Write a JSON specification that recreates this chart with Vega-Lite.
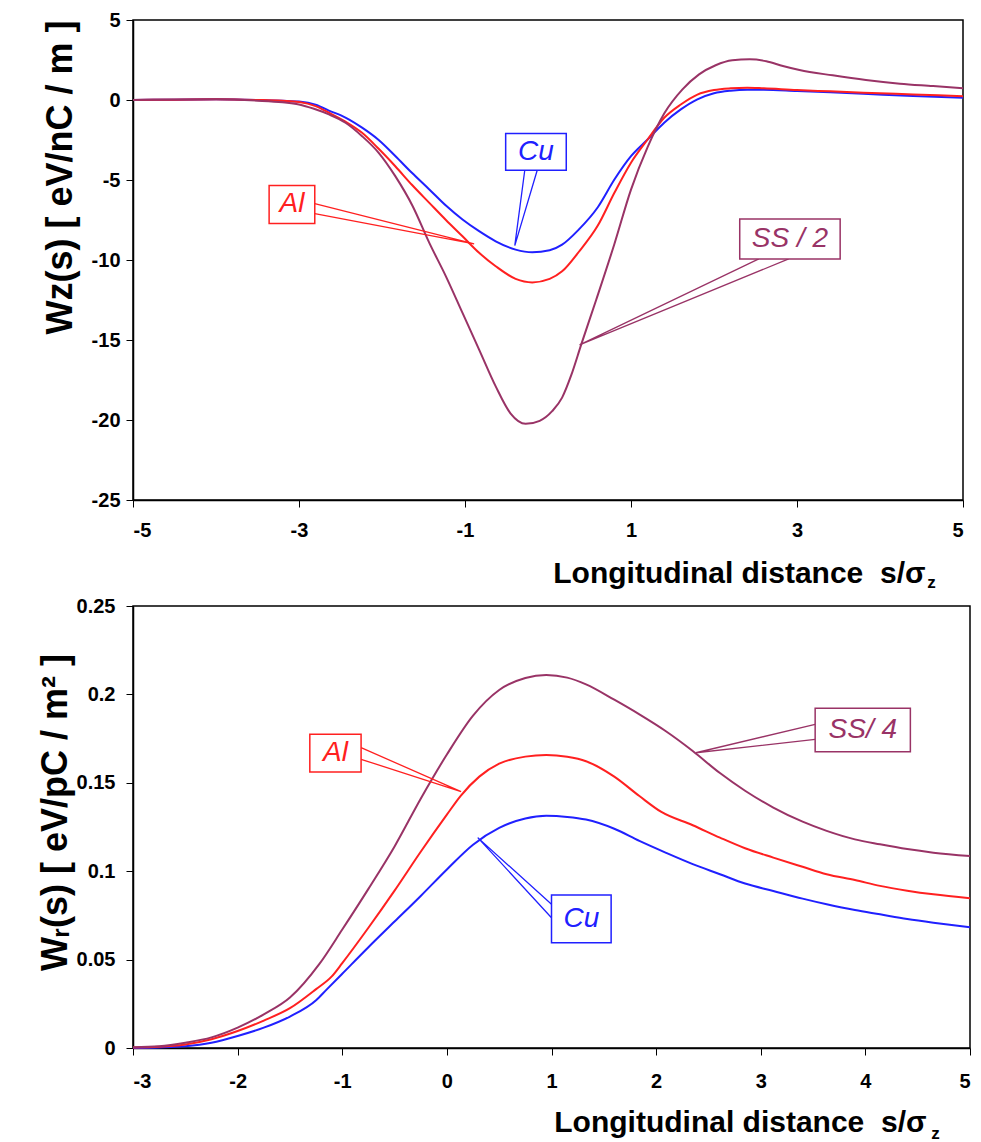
{
  "$schema": "https://vega.github.io/schema/vega-lite/v6.json",
  "background": "white",
  "padding": {"left": 36, "top": 9, "right": 5, "bottom": 2},
  "spacing": 3,
  "config": {
    "font": "Liberation Sans",
    "view": {"stroke": "black", "strokeWidth": 1.5},
    "axis": {
      "grid": false,
      "labelFont": "Liberation Sans",
      "titleFont": "Liberation Sans",
      "labelFontWeight": "bold",
      "titleFontWeight": "bold",
      "labelColor": "black",
      "titleColor": "black",
      "domainColor": "black",
      "tickColor": "black",
      "domainWidth": 1.5,
      "tickWidth": 1,
      "tickSize": 7,
      "labelFontSize": 20,
      "titleFontSize": 30
    }
  },
  "datasets": {
    "wz": [
      {"metal":"Cu","s":-5,"w":0},{"metal":"Cu","s":-4.5,"w":0.02},{"metal":"Cu","s":-4,"w":0.04},{"metal":"Cu","s":-3.5,"w":0},{"metal":"Cu","s":-3.2,"w":-0.05},{"metal":"Cu","s":-3,"w":-0.1},{"metal":"Cu","s":-2.8,"w":-0.3},{"metal":"Cu","s":-2.64,"w":-0.66},{"metal":"Cu","s":-2.44,"w":-1.1},{"metal":"Cu","s":-2.24,"w":-1.73},{"metal":"Cu","s":-2.04,"w":-2.5},{"metal":"Cu","s":-1.84,"w":-3.5},{"metal":"Cu","s":-1.64,"w":-4.55},{"metal":"Cu","s":-1.43,"w":-5.59},{"metal":"Cu","s":-1.23,"w":-6.6},{"metal":"Cu","s":-1.03,"w":-7.47},{"metal":"Cu","s":-0.83,"w":-8.2},{"metal":"Cu","s":-0.63,"w":-8.83},{"metal":"Cu","s":-0.39,"w":-9.35},{"metal":"Cu","s":-0.19,"w":-9.52},{"metal":"Cu","s":0.02,"w":-9.39},{"metal":"Cu","s":0.17,"w":-9.04},{"metal":"Cu","s":0.37,"w":-8.1},{"metal":"Cu","s":0.6,"w":-6.7},{"metal":"Cu","s":0.8,"w":-4.97},{"metal":"Cu","s":1.0,"w":-3.51},{"metal":"Cu","s":1.2,"w":-2.47},{"metal":"Cu","s":1.4,"w":-1.42},{"metal":"Cu","s":1.6,"w":-0.59},{"metal":"Cu","s":1.8,"w":0.04},{"metal":"Cu","s":2.0,"w":0.42},{"metal":"Cu","s":2.2,"w":0.58},{"metal":"Cu","s":2.4,"w":0.64},{"metal":"Cu","s":2.6,"w":0.64},{"metal":"Cu","s":3.0,"w":0.56},{"metal":"Cu","s":3.4,"w":0.48},{"metal":"Cu","s":3.8,"w":0.39},{"metal":"Cu","s":4.4,"w":0.25},{"metal":"Cu","s":5,"w":0.14},
      {"metal":"Al","s":-5,"w":0},{"metal":"Al","s":-4.5,"w":0.02},{"metal":"Al","s":-4,"w":0.04},{"metal":"Al","s":-3.5,"w":0},{"metal":"Al","s":-3.2,"w":-0.05},{"metal":"Al","s":-3,"w":-0.12},{"metal":"Al","s":-2.8,"w":-0.38},{"metal":"Al","s":-2.64,"w":-0.79},{"metal":"Al","s":-2.44,"w":-1.35},{"metal":"Al","s":-2.24,"w":-2.05},{"metal":"Al","s":-2.04,"w":-3.05},{"metal":"Al","s":-1.84,"w":-4.14},{"metal":"Al","s":-1.64,"w":-5.3},{"metal":"Al","s":-1.43,"w":-6.43},{"metal":"Al","s":-1.23,"w":-7.5},{"metal":"Al","s":-1.03,"w":-8.52},{"metal":"Al","s":-0.83,"w":-9.55},{"metal":"Al","s":-0.63,"w":-10.39},{"metal":"Al","s":-0.39,"w":-11.18},{"metal":"Al","s":-0.19,"w":-11.4},{"metal":"Al","s":0.02,"w":-11.18},{"metal":"Al","s":0.17,"w":-10.71},{"metal":"Al","s":0.37,"w":-9.5},{"metal":"Al","s":0.6,"w":-7.85},{"metal":"Al","s":0.8,"w":-5.8},{"metal":"Al","s":1.0,"w":-3.92},{"metal":"Al","s":1.2,"w":-2.47},{"metal":"Al","s":1.4,"w":-1.11},{"metal":"Al","s":1.6,"w":-0.28},{"metal":"Al","s":1.8,"w":0.34},{"metal":"Al","s":2.0,"w":0.62},{"metal":"Al","s":2.2,"w":0.73},{"metal":"Al","s":2.4,"w":0.77},{"metal":"Al","s":2.6,"w":0.73},{"metal":"Al","s":3.0,"w":0.62},{"metal":"Al","s":3.4,"w":0.54},{"metal":"Al","s":3.8,"w":0.46},{"metal":"Al","s":4.4,"w":0.35},{"metal":"Al","s":5,"w":0.24},
      {"metal":"SS","s":-5,"w":0},{"metal":"SS","s":-4.5,"w":0.03},{"metal":"SS","s":-4,"w":0.04},{"metal":"SS","s":-3.5,"w":-0.04},{"metal":"SS","s":-3.2,"w":-0.14},{"metal":"SS","s":-3,"w":-0.28},{"metal":"SS","s":-2.82,"w":-0.55},{"metal":"SS","s":-2.64,"w":-0.9},{"metal":"SS","s":-2.44,"w":-1.42},{"metal":"SS","s":-2.24,"w":-2.26},{"metal":"SS","s":-2.04,"w":-3.3},{"metal":"SS","s":-1.84,"w":-4.76},{"metal":"SS","s":-1.63,"w":-6.64},{"metal":"SS","s":-1.43,"w":-8.93},{"metal":"SS","s":-1.23,"w":-11.02},{"metal":"SS","s":-1.03,"w":-13.31},{"metal":"SS","s":-0.83,"w":-15.6},{"metal":"SS","s":-0.63,"w":-17.9},{"metal":"SS","s":-0.45,"w":-19.6},{"metal":"SS","s":-0.27,"w":-20.24},{"metal":"SS","s":-0.1,"w":-20.05},{"metal":"SS","s":0.05,"w":-19.45},{"metal":"SS","s":0.17,"w":-18.6},{"metal":"SS","s":0.28,"w":-17.2},{"metal":"SS","s":0.4,"w":-15.29},{"metal":"SS","s":0.58,"w":-12.5},{"metal":"SS","s":0.8,"w":-9.0},{"metal":"SS","s":1.0,"w":-5.6},{"metal":"SS","s":1.2,"w":-2.95},{"metal":"SS","s":1.4,"w":-0.85},{"metal":"SS","s":1.62,"w":0.66},{"metal":"SS","s":1.82,"w":1.6},{"metal":"SS","s":2.02,"w":2.17},{"metal":"SS","s":2.22,"w":2.48},{"metal":"SS","s":2.43,"w":2.54},{"metal":"SS","s":2.63,"w":2.42},{"metal":"SS","s":2.83,"w":2.12},{"metal":"SS","s":3.03,"w":1.87},{"metal":"SS","s":3.43,"w":1.54},{"metal":"SS","s":3.83,"w":1.25},{"metal":"SS","s":4.24,"w":1.02},{"metal":"SS","s":4.64,"w":0.87},{"metal":"SS","s":5,"w":0.73}
    ],
    "wzCall": [
      {"metal":"Cu","k":0,"s":-0.28,"w":-4.39},{"metal":"Cu","k":1,"s":-0.4,"w":-9.1},{"metal":"Cu","k":2,"s":-0.13,"w":-4.39},
      {"metal":"Al","k":0,"s":-2.81,"w":-6.48},{"metal":"Al","k":1,"s":-0.89,"w":-8.99},{"metal":"Al","k":2,"s":-2.81,"w":-7.1},
      {"metal":"SS","k":0,"s":2.54,"w":-9.93},{"metal":"SS","k":1,"s":0.38,"w":-15.3},{"metal":"SS","k":2,"s":2.9,"w":-9.93}
    ],
    "wzBox": [
      {"metal":"Cu","s":-0.51,"s2":0.22,"w":-2.09,"w2":-4.39},
      {"metal":"Al","s":-3.36,"s2":-2.81,"w":-5.34,"w2":-7.72},
      {"metal":"SS","s":2.31,"s2":3.52,"w":-7.43,"w2":-9.93}
    ],
    "wzLab": [
      {"metal":"Cu","label":"Cu","s":-0.145,"w":-3.24},
      {"metal":"Al","label":"Al","s":-3.085,"w":-6.53},
      {"metal":"SS","label":"SS / 2","s":2.915,"w":-8.68}
    ],
    "wzSub": [{"label":"z","s":4.57,"w":-30.5}],
    "wr": [
      {"metal":"Cu","s":-3,"w":0},{"metal":"Cu","s":-2.75,"w":0.0003},{"metal":"Cu","s":-2.5,"w":0.001},{"metal":"Cu","s":-2.25,"w":0.003},{"metal":"Cu","s":-2,"w":0.0068},{"metal":"Cu","s":-1.75,"w":0.0115},{"metal":"Cu","s":-1.5,"w":0.0178},{"metal":"Cu","s":-1.25,"w":0.027},{"metal":"Cu","s":-1.15,"w":0.033},{"metal":"Cu","s":-1,"w":0.042},{"metal":"Cu","s":-0.75,"w":0.057},{"metal":"Cu","s":-0.5,"w":0.0715},{"metal":"Cu","s":-0.25,"w":0.086},{"metal":"Cu","s":0,"w":0.101},{"metal":"Cu","s":0.25,"w":0.115},{"metal":"Cu","s":0.5,"w":0.1245},{"metal":"Cu","s":0.75,"w":0.1298},{"metal":"Cu","s":0.95,"w":0.1313},{"metal":"Cu","s":1.15,"w":0.1307},{"metal":"Cu","s":1.33,"w":0.1292},{"metal":"Cu","s":1.6,"w":0.124},{"metal":"Cu","s":1.84,"w":0.1171},{"metal":"Cu","s":2.09,"w":0.1105},{"metal":"Cu","s":2.35,"w":0.104},{"metal":"Cu","s":2.61,"w":0.0983},{"metal":"Cu","s":2.85,"w":0.093},{"metal":"Cu","s":3.12,"w":0.0888},{"metal":"Cu","s":3.4,"w":0.0845},{"metal":"Cu","s":3.63,"w":0.0813},{"metal":"Cu","s":3.9,"w":0.078},{"metal":"Cu","s":4.14,"w":0.0756},{"metal":"Cu","s":4.4,"w":0.073},{"metal":"Cu","s":4.65,"w":0.0709},{"metal":"Cu","s":5,"w":0.0683},
      {"metal":"Al","s":-3,"w":0.0003},{"metal":"Al","s":-2.75,"w":0.0007},{"metal":"Al","s":-2.5,"w":0.002},{"metal":"Al","s":-2.25,"w":0.005},{"metal":"Al","s":-2,"w":0.0096},{"metal":"Al","s":-1.75,"w":0.0155},{"metal":"Al","s":-1.5,"w":0.0225},{"metal":"Al","s":-1.25,"w":0.0333},{"metal":"Al","s":-1.1,"w":0.0405},{"metal":"Al","s":-1,"w":0.048},{"metal":"Al","s":-0.75,"w":0.068},{"metal":"Al","s":-0.5,"w":0.089},{"metal":"Al","s":-0.25,"w":0.111},{"metal":"Al","s":0,"w":0.132},{"metal":"Al","s":0.13,"w":0.1425},{"metal":"Al","s":0.31,"w":0.1535},{"metal":"Al","s":0.5,"w":0.1608},{"metal":"Al","s":0.75,"w":0.1648},{"metal":"Al","s":0.95,"w":0.1657},{"metal":"Al","s":1.15,"w":0.1647},{"metal":"Al","s":1.33,"w":0.1622},{"metal":"Al","s":1.6,"w":0.1535},{"metal":"Al","s":1.84,"w":0.1425},{"metal":"Al","s":2.05,"w":0.1335},{"metal":"Al","s":2.35,"w":0.126},{"metal":"Al","s":2.61,"w":0.119},{"metal":"Al","s":2.85,"w":0.113},{"metal":"Al","s":3.12,"w":0.1077},{"metal":"Al","s":3.4,"w":0.1025},{"metal":"Al","s":3.63,"w":0.0983},{"metal":"Al","s":3.9,"w":0.095},{"metal":"Al","s":4.14,"w":0.0917},{"metal":"Al","s":4.4,"w":0.089},{"metal":"Al","s":4.65,"w":0.0869},{"metal":"Al","s":5,"w":0.0847},
      {"metal":"SS","s":-3,"w":0.0004},{"metal":"SS","s":-2.75,"w":0.001},{"metal":"SS","s":-2.5,"w":0.003},{"metal":"SS","s":-2.25,"w":0.006},{"metal":"SS","s":-2,"w":0.0115},{"metal":"SS","s":-1.75,"w":0.019},{"metal":"SS","s":-1.5,"w":0.0285},{"metal":"SS","s":-1.22,"w":0.0474},{"metal":"SS","s":-1,"w":0.067},{"metal":"SS","s":-0.75,"w":0.09},{"metal":"SS","s":-0.5,"w":0.114},{"metal":"SS","s":-0.25,"w":0.141},{"metal":"SS","s":0,"w":0.166},{"metal":"SS","s":0.25,"w":0.188},{"metal":"SS","s":0.5,"w":0.2025},{"metal":"SS","s":0.75,"w":0.2093},{"metal":"SS","s":0.95,"w":0.211},{"metal":"SS","s":1.15,"w":0.2095},{"metal":"SS","s":1.33,"w":0.2057},{"metal":"SS","s":1.6,"w":0.197},{"metal":"SS","s":1.84,"w":0.1887},{"metal":"SS","s":2.09,"w":0.1793},{"metal":"SS","s":2.35,"w":0.168},{"metal":"SS","s":2.61,"w":0.1555},{"metal":"SS","s":2.85,"w":0.1455},{"metal":"SS","s":3.12,"w":0.136},{"metal":"SS","s":3.4,"w":0.128},{"metal":"SS","s":3.63,"w":0.1228},{"metal":"SS","s":3.9,"w":0.118},{"metal":"SS","s":4.14,"w":0.1152},{"metal":"SS","s":4.4,"w":0.1125},{"metal":"SS","s":4.65,"w":0.1105},{"metal":"SS","s":5,"w":0.1086}
    ],
    "wrCall": [
      {"metal":"Al","k":0,"s":-0.82,"w":0.1699},{"metal":"Al","k":1,"s":0.136,"w":0.145},{"metal":"Al","k":2,"s":-0.82,"w":0.1633},
      {"metal":"Cu","k":0,"s":1.0,"w":0.0813},{"metal":"Cu","k":1,"s":0.295,"w":0.119},{"metal":"Cu","k":2,"s":1.0,"w":0.0737},
      {"metal":"SS","k":0,"s":3.52,"w":0.1831},{"metal":"SS","k":1,"s":2.38,"w":0.167},{"metal":"SS","k":2,"s":3.52,"w":0.1746}
    ],
    "wrBox": [
      {"metal":"Al","s":-1.31,"s2":-0.82,"w":0.1774,"w2":0.1561},
      {"metal":"Cu","s":1.0,"s2":1.57,"w":0.0865,"w2":0.0596},
      {"metal":"SS","s":3.52,"s2":4.43,"w":0.1921,"w2":0.1676}
    ],
    "wrLab": [
      {"metal":"Al","label":"Al","s":-1.065,"w":0.1668},
      {"metal":"Cu","label":"Cu","s":1.285,"w":0.073},
      {"metal":"SS","label":"SS/ 4","s":3.975,"w":0.1799}
    ],
    "wrSub": [{"label":"z","s":4.63,"w":-0.0515}]
  },
  "vconcat": [
    {
      "width": 830,
      "height": 480,
      "encoding": {
        "x": {"field": "s", "type": "quantitative", "scale": {"domain": [-5, 5], "nice": false, "zero": false},
          "axis": {"values": [-5, -3, -1, 1, 3, 5], "labelExpr": "'' + datum.value", "title": "Longitudinal distance\u00a0\u00a0s/σ", "titleAnchor": "end", "titleAlign": "right", "titleX": 792, "labelPadding": 13, "titlePadding": 18}},
        "y": {"field": "w", "type": "quantitative", "scale": {"domain": [-25, 5], "nice": false, "zero": false},
          "axis": {"values": [5, 0, -5, -10, -15, -20, -25], "labelExpr": "'' + datum.value", "title": "Wz(s) [ eV/nC / m ]", "titleFontSize": 36, "titleAnchor": "end", "labelPadding": 6, "titlePadding": 12}}
      },
      "layer": [
        {"data": {"name": "wz"}, "mark": {"type": "line", "interpolate": "monotone", "strokeWidth": 2},
          "encoding": {"color": {"field": "metal", "type": "nominal", "scale": {"domain": ["Cu", "Al", "SS"], "range": ["#2020ff", "#ff2020", "#993366"]}, "legend": null}}},
        {"data": {"name": "wzCall"}, "mark": {"type": "line", "strokeWidth": 1.3},
          "encoding": {"color": {"field": "metal", "type": "nominal", "scale": {"domain": ["Cu", "Al", "SS"], "range": ["#2020ff", "#ff2020", "#993366"]}, "legend": null}, "order": {"field": "k", "type": "quantitative"}}},
        {"data": {"name": "wzBox"}, "mark": {"type": "rect", "strokeWidth": 1.5},
          "encoding": {"x2": {"field": "s2"}, "y2": {"field": "w2"}, "fill": {"value": "white"},
            "stroke": {"field": "metal", "type": "nominal", "scale": {"domain": ["Cu", "Al", "SS"], "range": ["#2020ff", "#ff2020", "#993366"]}, "legend": null}}},
        {"data": {"name": "wzLab"}, "mark": {"type": "text", "fontSize": 28, "fontStyle": "italic", "align": "center", "baseline": "middle"},
          "encoding": {"text": {"field": "label"}, "color": {"field": "metal", "type": "nominal", "scale": {"domain": ["Cu", "Al", "SS"], "range": ["#2020ff", "#ff2020", "#993366"]}, "legend": null}}},
        {"data": {"name": "wzSub"}, "mark": {"type": "text", "fontSize": 17, "fontWeight": "bold", "align": "left", "baseline": "alphabetic", "color": "black"},
          "encoding": {"text": {"field": "label"}}}
      ]
    },
    {
      "width": 837,
      "height": 442,
      "encoding": {
        "x": {"field": "s", "type": "quantitative", "scale": {"domain": [-3, 5], "nice": false, "zero": false},
          "axis": {"values": [-3, -2, -1, 0, 1, 2, 3, 4, 5], "labelExpr": "'' + datum.value", "title": "Longitudinal distance\u00a0\u00a0s/σ", "titleAnchor": "end", "titleAlign": "right", "titleX": 793, "labelPadding": 16, "titlePadding": 16}},
        "y": {"field": "w", "type": "quantitative", "scale": {"domain": [0, 0.25], "nice": false, "zero": false},
          "axis": {"values": [0, 0.05, 0.1, 0.15, 0.2, 0.25], "labelExpr": "'' + datum.value", "title": "Wᵣ(s) [ eV/pC / m² ]", "titleFontSize": 36, "titleAnchor": "middle", "titleY": 206, "labelPadding": 11, "titlePadding": 2}}
      },
      "layer": [
        {"data": {"name": "wr"}, "mark": {"type": "line", "interpolate": "monotone", "strokeWidth": 2},
          "encoding": {"color": {"field": "metal", "type": "nominal", "scale": {"domain": ["Cu", "Al", "SS"], "range": ["#2020ff", "#ff2020", "#993366"]}, "legend": null}}},
        {"data": {"name": "wrCall"}, "mark": {"type": "line", "strokeWidth": 1.3},
          "encoding": {"color": {"field": "metal", "type": "nominal", "scale": {"domain": ["Cu", "Al", "SS"], "range": ["#2020ff", "#ff2020", "#993366"]}, "legend": null}, "order": {"field": "k", "type": "quantitative"}}},
        {"data": {"name": "wrBox"}, "mark": {"type": "rect", "strokeWidth": 1.5},
          "encoding": {"x2": {"field": "s2"}, "y2": {"field": "w2"}, "fill": {"value": "white"},
            "stroke": {"field": "metal", "type": "nominal", "scale": {"domain": ["Cu", "Al", "SS"], "range": ["#2020ff", "#ff2020", "#993366"]}, "legend": null}}},
        {"data": {"name": "wrLab"}, "mark": {"type": "text", "fontSize": 28, "fontStyle": "italic", "align": "center", "baseline": "middle"},
          "encoding": {"text": {"field": "label"}, "color": {"field": "metal", "type": "nominal", "scale": {"domain": ["Cu", "Al", "SS"], "range": ["#2020ff", "#ff2020", "#993366"]}, "legend": null}}},
        {"data": {"name": "wrSub"}, "mark": {"type": "text", "fontSize": 17, "fontWeight": "bold", "align": "left", "baseline": "alphabetic", "color": "black"},
          "encoding": {"text": {"field": "label"}}}
      ]
    }
  ]
}
